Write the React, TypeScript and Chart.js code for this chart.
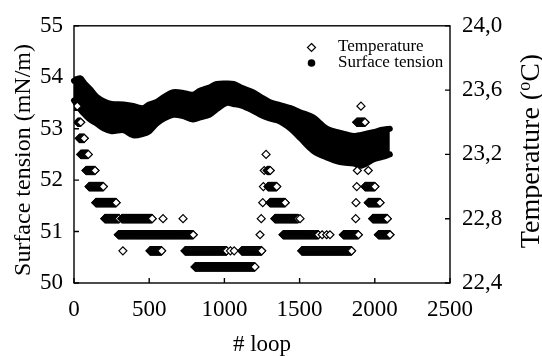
import React, { useEffect, useRef } from 'react';
import { Chart, registerables } from 'chart.js';

Chart.register(...registerables);

// axis tick values
const xTicks = [0, 500, 1000, 1500, 2000, 2500];
const leftTicks = [50, 51, 52, 53, 54, 55];
const rightTicks = [22.4, 22.8, 23.2, 23.6, 24.0];

// Temperature: runs of constant readings (start loop, end loop, level in °C)
const tempRunStart = [0, 25, 35, 45, 80, 100, 145, 205, 318, 592, 725, 295, 325, 505, 738, 1040, 1065, 1115, 805,
  1237, 1245, 1255, 1259, 1265, 1277, 1285, 1290, 1303, 1336, 1503, 1390, 1650, 1680, 1702, 1514, 1791,
  1873, 1875, 1880, 1884, 1880, 1908, 1957, 1935, 1957, 1986, 2024];
const tempRunEnd = [22, 45, 68, 95, 140, 195, 280, 300, 520, 592, 725, 793, 325, 583, 1015, 1040, 1065, 1248, 1203,
  1237, 1245, 1255, 1259, 1265, 1277, 1305, 1348, 1404, 1490, 1503, 1625, 1650, 1680, 1702, 1846, 1891,
  1873, 1875, 1880, 1884, 1935, 1908, 1957, 2001, 2035, 2083, 2101];
const tempRunLevel = [23.5, 23.4, 23.3, 23.2, 23.1, 23.0, 22.9, 22.8, 22.8, 22.8, 22.8, 22.7, 22.6, 22.6, 22.6, 22.6, 22.6, 22.6, 22.5,
  22.7, 22.8, 22.9, 23.0, 23.1, 23.2, 23.1, 23.0, 22.9, 22.8, 22.8, 22.7, 22.7, 22.7, 22.7, 22.6, 22.7,
  22.8, 22.9, 23.0, 23.1, 23.4, 23.5, 23.1, 23.0, 22.9, 22.8, 22.7];

// Surface tension: upper / lower edge of the dense band of readings (mN/m)
const stLoops = [0, 40, 70, 106, 150, 200, 250, 330, 394, 460, 500, 550, 600, 660, 720, 790, 840, 900, 950, 1015, 1060,
  1110, 1190, 1240, 1300, 1370, 1440, 1503, 1590, 1680, 1770, 1860, 1910, 1990, 2050, 2100];
const stUpper = [53.93, 53.98, 53.88, 53.77, 53.62, 53.53, 53.48, 53.47, 53.44, 53.4, 53.47, 53.52, 53.62, 53.71, 53.7,
  53.66, 53.74, 53.8, 53.87, 53.88, 53.87, 53.8, 53.71, 53.62, 53.52, 53.46, 53.4, 53.32, 53.22, 53.0, 52.92, 52.86,
  52.88, 52.93, 52.98, 53.0];
const stLower = [53.55, 53.38, 53.28, 53.18, 53.1, 53.0, 52.95, 52.97, 52.87, 52.9, 52.95, 53.1, 53.2, 53.27, 53.25,
  53.18, 53.22, 53.27, 53.38, 53.5, 53.48, 53.45, 53.35, 53.27, 53.2, 53.14, 53.0, 52.82, 52.57, 52.44, 52.35, 52.32,
  52.28, 52.4, 52.45, 52.5];

const SERIF = "'Liberation Serif', 'Times New Roman', serif";

function buildTempPoints() {
  const pts: { x: number; y: number }[] = [];
  for (let i = 0; i < tempRunStart.length; i++) {
    const s = tempRunStart[i];
    const e = tempRunEnd[i];
    for (let l = s; l <= e; l += 2) pts.push({ x: l, y: tempRunLevel[i] });
    if ((e - s) % 2 !== 0) pts.push({ x: e, y: tempRunLevel[i] });
  }
  return pts;
}

const overlayPlugin = {
  id: 'overlay',
  afterDraw(chart: any) {
    const { ctx, chartArea: a, scales } = chart;
    ctx.save();
    ctx.strokeStyle = '#000';
    ctx.lineWidth = 1.4;
    ctx.strokeRect(a.left, a.top, a.right - a.left, a.bottom - a.top);
    ctx.beginPath();
    for (const v of xTicks) {
      const p = scales.x.getPixelForValue(v);
      ctx.moveTo(p, a.bottom);
      ctx.lineTo(p, a.bottom - 5);
    }
    for (const v of leftTicks) {
      const p = scales.y.getPixelForValue(v);
      ctx.moveTo(a.left, p);
      ctx.lineTo(a.left + 5, p);
    }
    for (const v of rightTicks) {
      const p = scales.y2.getPixelForValue(v);
      ctx.moveTo(a.right, p);
      ctx.lineTo(a.right - 5, p);
    }
    ctx.stroke();

    ctx.fillStyle = '#000';
    // x title
    ctx.font = `23px ${SERIF}`;
    ctx.textAlign = 'center';
    ctx.textBaseline = 'alphabetic';
    ctx.fillText('# loop', 262, 351);

    // left title
    ctx.save();
    ctx.translate(24, 160);
    ctx.rotate(-Math.PI / 2);
    ctx.font = `24px ${SERIF}`;
    ctx.textAlign = 'center';
    ctx.textBaseline = 'middle';
    ctx.fillText('Surface tension (mN/m)', 0, 0);
    ctx.restore();

    // right title with superscript o
    ctx.save();
    ctx.translate(532, 151);
    ctx.rotate(-Math.PI / 2);
    ctx.textBaseline = 'middle';
    ctx.textAlign = 'left';
    const big = `28px ${SERIF}`;
    const small = `18px ${SERIF}`;
    const p1 = 'Temperature (';
    const p2 = 'o';
    const p3 = 'C)';
    ctx.font = big;
    const w1 = ctx.measureText(p1).width;
    const w3 = ctx.measureText(p3).width;
    ctx.font = small;
    const w2 = ctx.measureText(p2).width;
    let x0 = -(w1 + w2 + w3) / 2;
    ctx.font = big;
    ctx.fillText(p1, x0, 0);
    x0 += w1;
    ctx.font = small;
    ctx.fillText(p2, x0, -7);
    x0 += w2;
    ctx.font = big;
    ctx.fillText(p3, x0, 0);
    ctx.restore();

    // legend
    ctx.font = `17px ${SERIF}`;
    ctx.textAlign = 'left';
    ctx.textBaseline = 'middle';
    ctx.lineWidth = 1.2;
    ctx.beginPath();
    ctx.moveTo(311.5, 43.5);
    ctx.lineTo(315.5, 47.5);
    ctx.lineTo(311.5, 51.5);
    ctx.lineTo(307.5, 47.5);
    ctx.closePath();
    ctx.fillStyle = '#fff';
    ctx.fill();
    ctx.stroke();
    ctx.fillStyle = '#000';
    ctx.beginPath();
    ctx.arc(311.5, 63, 3.8, 0, Math.PI * 2);
    ctx.fill();
    ctx.fillText('Temperature', 338, 47);
    ctx.fillText('Surface tension', 338, 63);
    ctx.restore();
  },
};

export default function App() {
  const ref = useRef<HTMLCanvasElement | null>(null);
  useEffect(() => {
    if (!ref.current) return;
    const lower = stLoops.map((x, i) => ({ x, y: stLower[i] }));
    const upper = stLoops.map((x, i) => ({ x, y: stUpper[i] }));
    const chart = new Chart(ref.current, {
      type: 'scatter',
      data: {
        datasets: [
          {
            label: 'Temperature',
            data: buildTempPoints(),
            yAxisID: 'y2',
            pointStyle: 'rectRot',
            pointRadius: 4,
            pointBorderWidth: 1.2,
            pointBorderColor: '#000',
            pointBackgroundColor: '#fff',
            showLine: false,
          },
          {
            label: 'Surface tension low',
            data: lower,
            yAxisID: 'y',
            showLine: true,
            borderColor: '#000',
            borderWidth: 6,
            borderCapStyle: 'round',
            borderJoinStyle: 'round',
            tension: 0.35,
            pointRadius: 0,
            fill: false,
            clip: 6,
          },
          {
            label: 'Surface tension',
            data: upper,
            yAxisID: 'y',
            showLine: true,
            borderColor: '#000',
            backgroundColor: '#000',
            borderWidth: 6,
            borderCapStyle: 'round',
            borderJoinStyle: 'round',
            tension: 0.35,
            pointRadius: 0,
            fill: '-1',
            clip: 6,
          },
        ],
      },
      options: {
        animation: false,
        responsive: true,
        maintainAspectRatio: false,
        layout: { padding: { top: 21, left: 0, right: 0, bottom: 0 } },
        plugins: { legend: { display: false }, tooltip: { enabled: false } },
        scales: {
          x: {
            type: 'linear',
            min: 0,
            max: 2500,
            grid: { display: false, drawTicks: false },
            border: { display: false },
            afterBuildTicks: (s: any) => { s.ticks = xTicks.map((v) => ({ value: v })); },
            afterFit: (s: any) => { s.height = 73; },
            ticks: { color: '#000', font: { family: SERIF, size: 23 }, padding: 13, maxRotation: 0, callback: (v: any) => String(v) },
          },
          y: {
            type: 'linear',
            position: 'left',
            min: 50,
            max: 55,
            grid: { display: false, drawTicks: false },
            border: { display: false },
            afterBuildTicks: (s: any) => { s.ticks = leftTicks.map((v) => ({ value: v })); },
            afterFit: (s: any) => { s.width = 74; },
            ticks: { color: '#000', font: { family: SERIF, size: 23 }, padding: 11, callback: (v: any) => String(v) },
          },
          y2: {
            type: 'linear',
            position: 'right',
            min: 22.4,
            max: 24.0,
            grid: { display: false, drawTicks: false },
            border: { display: false },
            afterBuildTicks: (s: any) => { s.ticks = rightTicks.map((v) => ({ value: v })); },
            afterFit: (s: any) => { s.width = 92; },
            ticks: { color: '#000', font: { family: SERIF, size: 23 }, padding: 12, callback: (v: any) => Number(v).toFixed(1).replace('.', ',') },
          },
        },
      },
      plugins: [overlayPlugin],
    });
    return () => chart.destroy();
  }, []);
  return (
    <div style={{ position: 'fixed', left: 0, top: 0, width: 542, height: 356, background: '#fff' }}>
      <canvas ref={ref} />
    </div>
  );
}
